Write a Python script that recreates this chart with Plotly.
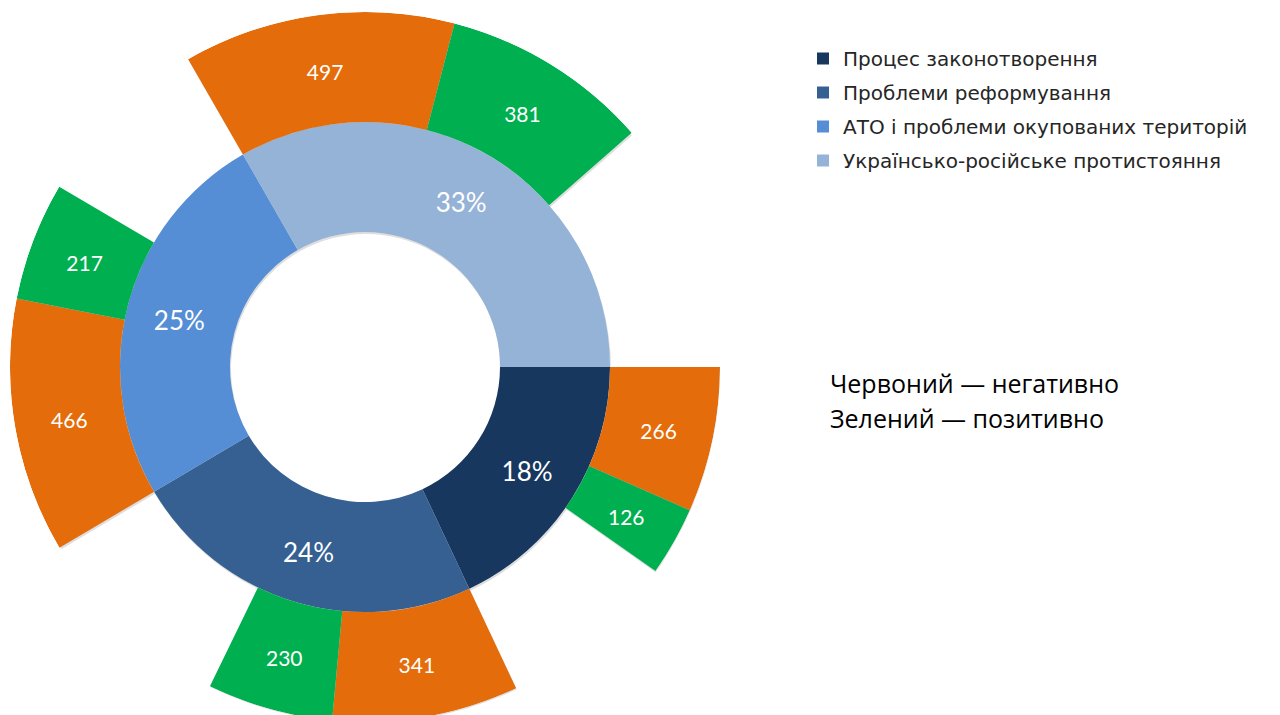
import math
import plotly.graph_objects as go

categories = ["Процес законотворення", "Проблеми реформування",
              "АТО і проблеми окупованих територій", "Українсько-російське протистояння"]
shares = [18.0, 23.5, 25.2, 33.3]
share_labels = ["18%", "24%", "25%", "33%"]
negative = [266, 341, 466, 497]
positive = [126, 230, 217, 381]

cat_colors = ["#17375E", "#366092", "#558ED5", "#95B3D7"]
neg_color = "#E46C0A"
pos_color = "#00B050"

DEG_PER_UNIT = 0.0895
R_HOLE, R_MID, R_OUT = 135, 245, 355
LABEL_DY = 5  # label baseline nudge, px (1 radial unit = 1 px)
FONT_LBL = "Lato, 'Open Sans', sans-serif"
FONT_LEG = "'DejaVu Sans', 'Open Sans', sans-serif"
FONT_TXT = "'Open Sans', Lato, sans-serif"


def nudge(r, th, dy=LABEL_DY):
    x = r * math.cos(math.radians(th))
    y = r * math.sin(math.radians(th)) + dy
    return math.hypot(x, y), math.degrees(math.atan2(y, x))


fig = go.Figure()

# geometry from data
inner_theta, inner_width = [], []
start = 0.0
for s in shares:
    w = s * 3.6
    inner_theta.append(start + w / 2)
    inner_width.append(w)
    start += w

out_theta, out_vals, out_cols = [], [], []
cat_start = 0.0
for s, n, p in zip(shares, negative, positive):
    a = cat_start
    for v, col in ((n, neg_color), (p, pos_color)):
        w = v * DEG_PER_UNIT
        out_theta.append(a + w / 2)
        out_vals.append(v)
        out_cols.append(col)
        a += w
    cat_start += s * 3.6
out_width = [v * DEG_PER_UNIT for v in out_vals]

# soft shadow (separate polar subplot, slightly offset)
sh = "rgba(0,0,0,0.13)"
fig.add_trace(go.Barpolar(
    r=[R_MID - R_HOLE] * 4, base=[R_HOLE] * 4, theta=inner_theta, width=inner_width,
    marker=dict(color=sh, line=dict(width=0)), showlegend=False, hoverinfo="skip", subplot="polar"))
fig.add_trace(go.Barpolar(
    r=[R_OUT - R_MID] * len(out_vals), base=[R_MID] * len(out_vals), theta=out_theta,
    width=out_width, marker=dict(color=sh, line=dict(width=0)), showlegend=False,
    hoverinfo="skip", subplot="polar"))

# inner donut
for name, th, w, c in zip(categories, inner_theta, inner_width, cat_colors):
    fig.add_trace(go.Barpolar(
        r=[R_MID - R_HOLE], base=[R_HOLE], theta=[th], width=[w],
        marker=dict(color=c, line=dict(width=0)), name=name, showlegend=True,
        legendgroup=name, hoverinfo="skip", subplot="polar2"))

# outer ring
fig.add_trace(go.Barpolar(
    r=[R_OUT - R_MID] * len(out_vals), base=[R_MID] * len(out_vals),
    theta=out_theta, width=out_width,
    marker=dict(color=out_cols, line=dict(width=0)), showlegend=False, hoverinfo="skip",
    subplot="polar2"))

# labels
pct_pos = [nudge((R_HOLE + R_MID) / 2 + 2, th) for th in inner_theta]
cnt_pos = [nudge((R_MID + R_OUT) / 2, th) for th in out_theta]
fig.add_trace(go.Scatterpolar(
    r=[p[0] for p in pct_pos], theta=[p[1] for p in pct_pos], mode="text",
    text=share_labels, textfont=dict(color="white", size=26, family=FONT_LBL),
    showlegend=False, hoverinfo="skip", subplot="polar2"))
fig.add_trace(go.Scatterpolar(
    r=[p[0] for p in cnt_pos], theta=[p[1] for p in cnt_pos], mode="text",
    text=[str(v) for v in out_vals], textfont=dict(color="white", size=21, family=FONT_LBL),
    showlegend=False, hoverinfo="skip", subplot="polar2"))

W, H = 1280, 715
cx, cy = 357, 359   # page has an 8px body margin
R_SH = 354
ang = dict(direction="clockwise", rotation=0, visible=False, showgrid=False)
fig.update_layout(
    width=W, height=H, margin=dict(l=0, r=0, t=0, b=0),
    paper_bgcolor="white", plot_bgcolor="white",
    polar=dict(
        domain=dict(x=[(cx + 1 - R_SH) / W, (cx + 1 + R_SH) / W], y=[0, 2 * R_SH / H]),
        bgcolor="rgba(0,0,0,0)",
        radialaxis=dict(range=[0, R_SH], visible=False, showgrid=False),
        angularaxis=ang, barmode="overlay",
    ),
    polar2=dict(
        domain=dict(x=[(cx - R_OUT) / W, (cx + R_OUT) / W],
                    y=[(H - cy - R_OUT) / H, (H - cy + R_OUT) / H]),
        bgcolor="rgba(0,0,0,0)",
        radialaxis=dict(range=[0, R_OUT], visible=False, showgrid=False),
        angularaxis=ang, barmode="overlay",
    ),
    legend=dict(x=795 / W, y=1 - 31 / H, xanchor="left", yanchor="top",
                font=dict(size=20, family=FONT_LEG, color="#262626"),
                tracegroupgap=5, bgcolor="rgba(0,0,0,0)"),
    annotations=[
        dict(x=820 / W, y=1 - 375 / H, xref="paper", yref="paper", xanchor="left",
             yanchor="middle", showarrow=False, text="Червоний — негативно",
             font=dict(size=25, family=FONT_TXT, color="black")),
        dict(x=820 / W, y=1 - 410 / H, xref="paper", yref="paper", xanchor="left",
             yanchor="middle", showarrow=False, text="Зелений — позитивно",
             font=dict(size=25, family=FONT_TXT, color="black")),
    ],
)

fig.write_html("out.html")
